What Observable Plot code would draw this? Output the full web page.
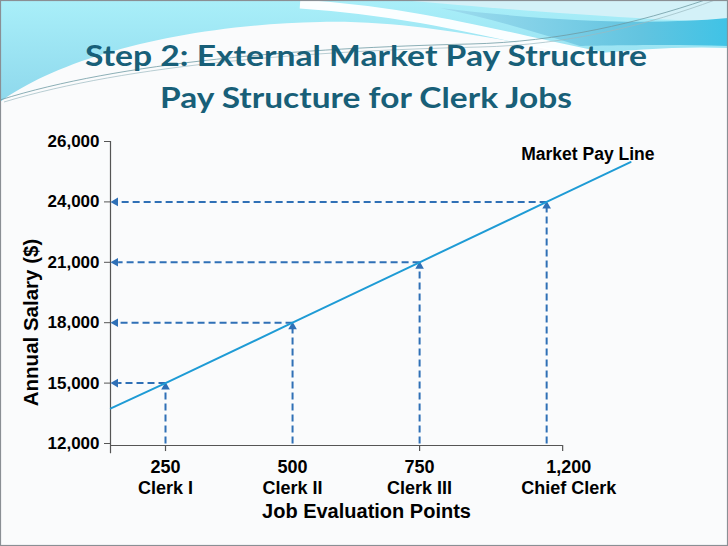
<!DOCTYPE html>
<html>
<head>
<meta charset="utf-8">
<script src="https://cdn.jsdelivr.net/npm/d3@7"></script>
<script src="https://cdn.jsdelivr.net/npm/@observablehq/plot@0.6"></script>
<style>
  html, body { margin: 0; padding: 0; background: #fafbfc; }
  #slide { position: relative; width: 728px; height: 546px; overflow: hidden; background: #fafbfc; }
  #deco { position: absolute; left: 0; top: 0; }
  #chart { position: absolute; left: 0; top: 130px; }
</style>
</head>
<body>
<div id="slide">
  <svg id="deco" width="728" height="546" xmlns="http://www.w3.org/2000/svg">
    <defs>
      <linearGradient id="cy" x1="0" y1="0" x2="0" y2="1">
        <stop offset="0" stop-color="#a9eff9"/>
        <stop offset="1" stop-color="#8ed8ec"/>
      </linearGradient>
      <linearGradient id="band" x1="0" y1="0" x2="1" y2="0">
        <stop offset="0" stop-color="#9fdcee"/>
        <stop offset="0.7" stop-color="#62c4e0"/>
        <stop offset="1" stop-color="#3fc3e6"/>
      </linearGradient>
    </defs>
    <rect width="728" height="546" fill="#fafbfc"/>
    <path d="M0,0 H728 V48 C680,46 630,50 590,54 C500,42 420,20 320,22 C180,25 60,58 0,102 Z" fill="url(#cy)"/>
    <path d="M400,0 H728 V22 C650,20 560,14 400,0 Z" fill="#d3f1f8"/>
    <path d="M440,8 C540,20 640,26 728,18 V46 C660,44 600,46 580,46 C530,30 480,16 440,8 Z" fill="url(#band)"/>
    <path d="M300,4 C420,12 500,36 600,56" fill="none" stroke="#ffffff" stroke-width="9" opacity="0.95"/>
    <path d="M0,100 C120,62 300,48 470,44 C560,42 640,22 705,0" fill="none" stroke="#6f9aa3" stroke-width="0.8"/>
    <path d="M4,102 C130,64 310,51 480,47 C570,45 650,24 715,0" fill="none" stroke="#9bb9c0" stroke-width="0.7"/>
    <rect x="0.5" y="0.5" width="727" height="545" fill="none" stroke="#8a8f94" stroke-width="1.2"/>
    <text x="85" y="66" textLength="562" lengthAdjust="spacingAndGlyphs" font-family="Lato, 'Open Sans', sans-serif" font-weight="bold" font-size="28" fill="#185f78">Step 2: External Market Pay Structure</text>
    <text x="160" y="108" textLength="412" lengthAdjust="spacingAndGlyphs" font-family="Lato, 'Open Sans', sans-serif" font-weight="bold" font-size="28" fill="#185f78">Pay Structure for Clerk Jobs</text>
  </svg>
  <div id="chart"></div>
</div>
<script>
// ---- data ----
const salaryTicks = [12000, 15000, 18000, 21000, 24000, 26000];
const jobPoints = [250, 500, 750, 1200];
const jobTitles = ["Clerk I", "Clerk II", "Clerk III", "Chief Clerk"];
const jobSalaries = [15000, 18000, 21000, 24000];
const xTickJobs = [250, 750];
const lineLabel = "Market Pay Line";
const xTitle = "Job Evaluation Points";
const yTitle = "Annual Salary ($)";
// ends of the market pay line, in axis-slot units (job slot, salary slot)
const marketLineEnds = [{slot: -0.43, level: 0.58}, {slot: 3.66, level: 4.66}];

// ---- derived table ----
const jobs = jobPoints.map((p, i) => ({
  points: p,
  title: jobTitles[i],
  salary: jobSalaries[i],
  slot: i,
  level: salaryTicks.indexOf(jobSalaries[i])
}));
const linePts = [marketLineEnds[0], ...jobs, marketLineEnds[1]];
const fmt = d3.format(",");

const xMin = -0.433, xMax = 3.66, xAxisEnd = 3.126;
const dash = "#2f70b6", lineCol = "#1e9bd5", axisCol = "#555";
const font = "'Liberation Sans', Arial, sans-serif";

const chart = Plot.plot({
  width: 728,
  height: 416,
  marginLeft: 110,
  marginRight: 98,
  marginTop: 11,
  marginBottom: 103,
  style: {background: "transparent", fontFamily: font, color: "#000"},
  x: {type: "linear", domain: [xMin, xMax], axis: null},
  y: {type: "linear", domain: [0, salaryTicks.length - 1], axis: null},
  marks: [
    // axes lines
    Plot.ruleX([xMin], {y1: -0.17, y2: salaryTicks.length - 1, stroke: axisCol, strokeWidth: 1.2}),
    Plot.ruleY([0], {x1: xMin, x2: xAxisEnd, stroke: axisCol, strokeWidth: 1.2, dy: 2}),
    Plot.ruleX([...xTickJobs.map(p => jobPoints.indexOf(p)), xAxisEnd], {y1: 0, y2: -0.1, stroke: axisCol, strokeWidth: 1.2, dy: 2}),
    Plot.axisY(salaryTicks.map((d, i) => i), {
      tickFormat: i => fmt(salaryTicks[i]),
      tickSize: 6, tickPadding: 5, fontSize: 17, fontWeight: "bold",
      stroke: axisCol, label: null
    }),
    // dashed guide lines
    Plot.link(jobs, {x1: "slot", x2: "slot", y1: 0, y2: d => d.level - 0.08, stroke: dash, strokeWidth: 2, strokeDasharray: "7,4"}),
    Plot.link(jobs, {x1: "slot", x2: xMin + 0.06, y1: "level", y2: "level", stroke: dash, strokeWidth: 2, strokeDasharray: "7,4"}),
    Plot.dot(jobs, {x: "slot", y: "level", symbol: "triangle", r: 3.2, fill: dash, stroke: null, dy: 4}),
    Plot.dot(jobs, {x: xMin, y: "level", symbol: "triangle", r: 3.2, fill: dash, stroke: null, rotate: -90, dx: 5}),
    // market pay line
    Plot.line(linePts, {x: "slot", y: "level", stroke: lineCol, strokeWidth: 2}),
    Plot.text([lineLabel], {x: marketLineEnds[1].slot, y: marketLineEnds[1].level, text: d => d, textAnchor: "end", dx: 24, dy: -8, fontSize: 17.5, fontWeight: "bold"}),
    // x tick labels
    Plot.text(jobs.slice(0, 3), {x: "slot", y: 0, text: d => fmt(d.points), dy: 24, fontSize: 18, fontWeight: "bold"}),
    Plot.text(jobs.slice(0, 3), {x: "slot", y: 0, text: "title", dy: 45, fontSize: 18, fontWeight: "bold"}),
    Plot.text(jobs.slice(3), {x: "slot", y: 0, text: d => fmt(d.points), dy: 24, dx: 22, fontSize: 18, fontWeight: "bold"}),
    Plot.text(jobs.slice(3), {x: "slot", y: 0, text: "title", dy: 45, dx: 22, fontSize: 18, fontWeight: "bold"}),
    // axis titles
    Plot.text([xTitle], {frameAnchor: "bottom", lineAnchor: "middle", textAnchor: "middle", text: d => d, dy: 68, dx: -4, fontSize: 20, fontWeight: "bold"}),
    Plot.text([yTitle], {frameAnchor: "left", lineAnchor: "middle", textAnchor: "middle", text: d => d, rotate: -90, dx: -79, dy: 30, fontSize: 20.5, fontWeight: "bold"})
  ]
});
document.getElementById("chart").appendChild(chart);
</script>
</body>
</html>
